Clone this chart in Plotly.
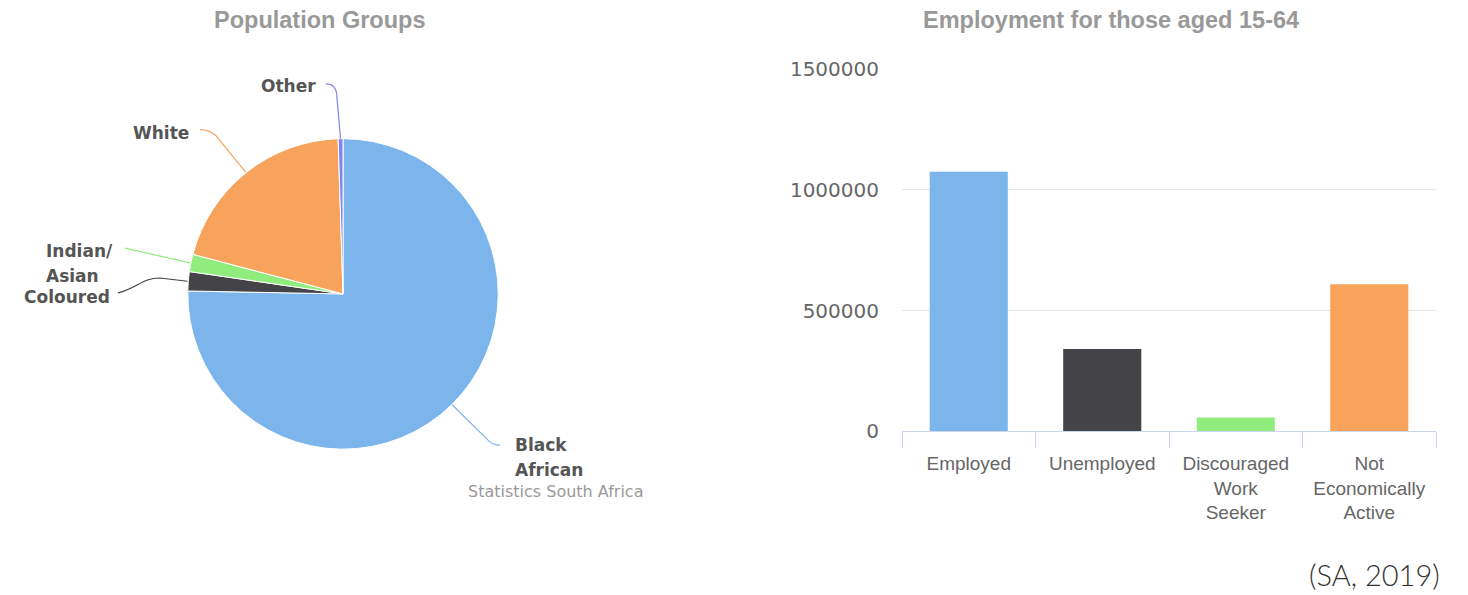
import math
import plotly.graph_objects as go

W, H = 1468, 595

# Population groups (share of population, %)
groups = ["Black African", "Coloured", "Indian/Asian", "White", "Other"]
group_share = [75.3, 2.0, 1.8, 20.4, 0.5]
group_colors = ["#7cb5ec", "#434348", "#90ed7d", "#f7a35c", "#8085e9"]

# Employment status for those aged 15-64
status = ["Employed", "Unemployed", "Discouraged Work Seeker", "Not Economically Active"]
status_ticks = ["Employed", "Unemployed", "Discouraged<br>Work<br>Seeker", "Not<br>Economically<br>Active"]
status_count = [1075000, 341000, 56500, 609000]
status_colors = ["#7cb5ec", "#434348", "#90ed7d", "#f7a35c"]
y_ticks = [0, 500000, 1000000, 1500000]

# vertical placement helpers (page pixels -> paper fractions)
TOP_OFF, H_EFF = 10.7, 574.8


def px(x):
    return x / W


def py(y):
    return 1 - (y - TOP_OFF) / H_EFF


# pie placement in page pixels
pie_left, pie_right, pie_top, pie_bottom = 187, 499, 139, 451
cx = (pie_left + pie_right) / 2
cy = (pie_top + pie_bottom) / 2
r = min(pie_right - pie_left, pie_bottom - pie_top) / 2

# bar plot area in page pixels
axis_left, axis_right, axis_zero, axis_1500k = 902, 1436, 433, 69
y_max = 1503000
axis_top = axis_zero - y_max * (axis_zero - axis_1500k) / 1500000

fig = go.Figure()

fig.add_trace(go.Pie(
    labels=groups,
    values=group_share,
    sort=False,
    direction="clockwise",
    rotation=0,
    textinfo="none",
    hoverinfo="label+percent",
    marker=dict(colors=group_colors, line=dict(color="#ffffff", width=1)),
    domain=dict(x=[px(pie_left), px(pie_right)], y=[py(pie_bottom), py(pie_top)]),
    showlegend=False,
))

fig.add_trace(go.Bar(
    x=status,
    y=status_count,
    marker=dict(color=status_colors, line=dict(width=0)),
    showlegend=False,
    hoverinfo="x+y",
))

# slice edge points at the middle angle of each slice
total = sum(group_share)
edge = []
acc = 0.0
for v in group_share:
    theta = 2 * math.pi * (acc + v / 2) / total
    edge.append((cx + r * math.sin(theta), cy - r * math.cos(theta)))
    acc += v

# leader line routes: start next to the label, then curve towards the slice
routes = {
    "Other": "M {a},{b} Q {c},{b} {c},{d} L {ex},{ey}",
    "White": "M {a},{b} Q {c},{b} {c2},{d} L {ex},{ey}",
    "Indian/Asian": "M {a},{b} L {ex},{ey}",
    "Coloured": "M {a},{b} C {c},{b2} {c2},{d} {c3},{d} L {ex},{ey}",
    "Black African": "M {ex},{ey} L {a},{b} Q {c},{d} {c2},{d}",
}
route_pts = {
    "Other": dict(a=326, b=84, c=337, d=98),
    "White": dict(a=200, b=130, c=209, c2=216, d=136),
    "Indian/Asian": dict(a=125, b=249),
    "Coloured": dict(a=118, b=294, b2=289, c=138, c2=142, c3=160, d=279),
    "Black African": dict(a=489, b=443, c=493, d=447, c2=500),
}

shapes = []
for i, name in enumerate(groups):
    pts_paper = {}
    for k, v in route_pts[name].items():
        pts_paper[k] = px(v) if k.startswith(("a", "c")) else py(v)
    pts_paper["ex"] = px(edge[i][0])
    pts_paper["ey"] = py(edge[i][1])
    path = routes[name].format(**{k: f"{v:.5f}" for k, v in pts_paper.items()})
    shapes.append(dict(type="path", xref="paper", yref="paper", path=path,
                       line=dict(color=group_colors[i], width=1.2)))

label_font = dict(family="DejaVu Sans", size=17, color="#555555", weight="bold")
pie_labels = [
    ("Other", 318, 86, "right"),
    ("White", 191, 133, "right"),
    ("Indian/", 44, 252, "left"),
    ("Asian", 44, 277, "left"),
    ("Coloured", 112, 298, "right"),
    ("Black", 513, 447, "left"),
    ("African", 513, 472, "left"),
]

annotations = []
for text, x, y, anchor in pie_labels:
    annotations.append(dict(text=text, x=px(x), y=py(y), xref="paper", yref="paper",
                            xanchor=anchor, yanchor="middle", showarrow=False,
                            font=label_font))

title_font = dict(family="Liberation Sans, Arial", size=23.5, color="#999999", weight="bold")
annotations += [
    dict(text="Population Groups", x=px(320), y=py(20), xref="paper", yref="paper",
         xanchor="center", yanchor="middle", showarrow=False, font=title_font),
    dict(text="Employment for those aged 15-64", x=px(1111), y=py(20), xref="paper",
         yref="paper", xanchor="center", yanchor="middle", showarrow=False, font=title_font),
    dict(text="Statistics South Africa", x=px(555), y=py(494), xref="paper", yref="paper",
         xanchor="center", yanchor="middle", showarrow=False,
         font=dict(family="DejaVu Sans", size=16, color="#999999")),
    dict(text="(SA, 2019)", x=px(1442), y=py(577), xref="paper", yref="paper",
         xanchor="right", yanchor="middle", showarrow=False,
         font=dict(family="Lato", size=29, color="#333333", weight=300)),
]

fig.update_layout(
    width=W,
    height=H,
    margin=dict(l=0, r=0, t=0, b=0),
    paper_bgcolor="#ffffff",
    plot_bgcolor="#ffffff",
    bargap=0.415,
    shapes=shapes,
    annotations=annotations,
    xaxis=dict(
        domain=[px(axis_left), px(axis_right)],
        anchor="y",
        showline=True,
        linecolor="#ccd6eb",
        linewidth=1,
        ticks="outside",
        tickson="boundaries",
        ticklen=16,
        tickcolor="#ccd6eb",
        tickvals=status,
        ticktext=status_ticks,
        tickfont=dict(family="Liberation Sans, Arial", size=19, color="#666666"),
        ticklabelstandoff=15,
        showgrid=False,
        fixedrange=True,
    ),
    yaxis=dict(
        domain=[py(axis_zero), py(axis_top)],
        anchor="x",
        range=[0, y_max],
        tickvals=y_ticks,
        ticktext=[str(v) for v in y_ticks],
        tickfont=dict(family="DejaVu Sans", size=20, color="#666666"),
        showgrid=True,
        gridcolor="#e6e6e6",
        gridwidth=1,
        zeroline=False,
        showline=False,
        ticklabelstandoff=22,
        fixedrange=True,
    ),
)

fig.write_html("out.html")
